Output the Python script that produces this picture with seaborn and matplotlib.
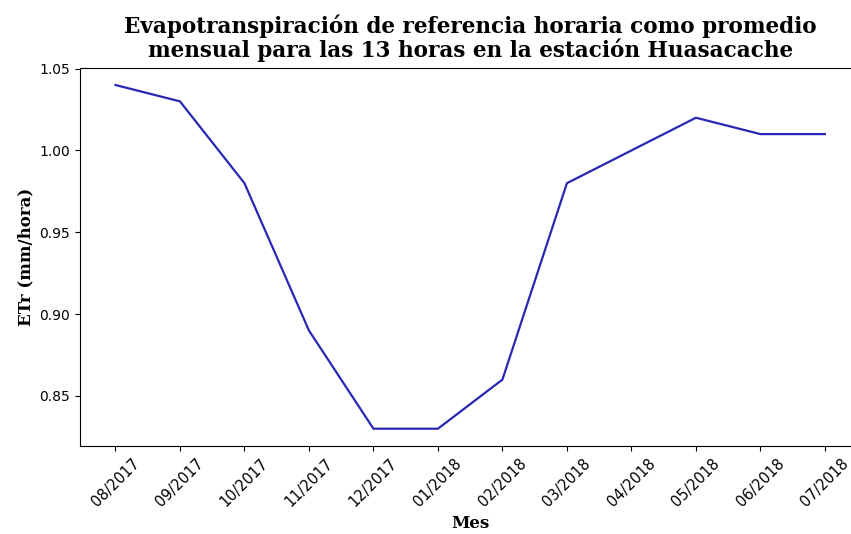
import pandas as pd
import seaborn as sns
import matplotlib.pyplot as plt

# Monthly mean hourly ETr, Huasacache station
meses = ["08/2017", "09/2017", "10/2017", "11/2017", "12/2017", "01/2018",
         "02/2018", "03/2018", "04/2018", "05/2018", "06/2018", "07/2018"]
etr = [1.04, 1.03, 0.98, 0.89, 0.83, 0.83, 0.86, 0.98, 1.00, 1.02, 1.01, 1.01]

df = pd.DataFrame({"Mes": meses, "ETr": etr})

fig = plt.figure(figsize=(8.51, 5.34), dpi=100)
ax = fig.add_axes([0.094, 0.165, 0.917, 0.708])

sns.lineplot(data=df, x="Mes", y="ETr", color="#2828b4", linewidth=1.6, ax=ax)

ax.set_title("Evapotranspiración de referencia horaria como promedio\n"
             "mensual para las 13 horas en la estación Huasacache",
             fontfamily="DejaVu Serif", fontweight="bold", fontsize=15.5,
             linespacing=1.0, pad=8)
ax.set_xlabel("Mes", fontfamily="DejaVu Serif", fontweight="bold", fontsize=12)
ax.set_ylabel("ETr (mm/hora)", fontfamily="DejaVu Serif", fontweight="bold", fontsize=12)
ax.set_yticks([0.85, 0.90, 0.95, 1.00, 1.05])
plt.xticks(rotation=45, fontsize=10.5)

fig.savefig("out.png", dpi=100)
